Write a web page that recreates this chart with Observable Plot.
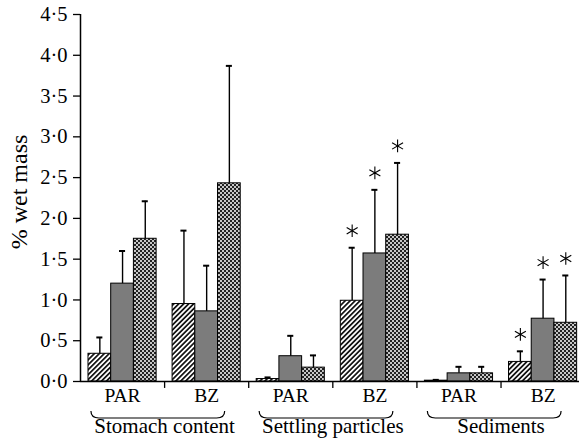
<!DOCTYPE html>
<html>
<head>
<meta charset="utf-8">
<script src="https://cdn.jsdelivr.net/npm/d3@7"></script>
<script src="https://cdn.jsdelivr.net/npm/@observablehq/plot@0.6"></script>
<style>
  html, body { margin: 0; padding: 0; background: #fff; }
  #chart { width: 579px; height: 444px; }
</style>
</head>
<body>
<div id="chart"></div>
<script>
// ---- data ----
const subgroups = ["PAR", "BZ", "PAR", "BZ", "PAR", "BZ"];
const sources = ["Stomach content", "Settling particles", "Sediments"];
const yTicks = [0, 0.5, 1, 1.5, 2, 2.5, 3, 3.5, 4, 4.5];
const yLabel = "% wet mass";
const seriesNames = ["hatched", "grey", "checked"];
// means (% wet mass) per subgroup
const hatchedMean = [0.34, 0.95, 0.03, 0.99, 0.01, 0.24];
const greyMean    = [1.20, 0.86, 0.31, 1.57, 0.10, 0.77];
const checkedMean = [1.75, 2.43, 0.17, 1.80, 0.10, 0.72];
// mean + error (top of error bar)
const hatchedTop = [0.54, 1.85, 0.05, 1.64, 0.02, 0.37];
const greyTop    = [1.60, 1.42, 0.56, 2.35, 0.18, 1.25];
const checkedTop = [2.21, 3.87, 0.32, 2.68, 0.18, 1.30];
// significance asterisk per subgroup
const significant = [false, false, false, true, false, true];

// ---- layout constants (styling, not data) ----
const FONT = "'Liberation Serif', 'Times New Roman', serif";
const groupPad = 0.095, barW = 0.27, capHalf = 0.036, tickLenX = 0.083, tickLenY = 0.085;
const fills = ["url(#hatch)", "#7c7c7c", "url(#checks)"];

const means = [hatchedMean, greyMean, checkedMean];
const tops = [hatchedTop, greyTop, checkedTop];
const rows = [];
subgroups.forEach((g, gi) => {
  seriesNames.forEach((s, si) => {
    const x1 = gi + groupPad + si * barW;
    rows.push({gi, si, x1, x2: x1 + barW, xc: x1 + barW / 2,
      mean: means[si][gi], top: tops[si][gi], sig: significant[gi]});
  });
});

const svgNS = "http://www.w3.org/2000/svg";
function el(name, attrs, parent) {
  const e = document.createElementNS(svgNS, name);
  for (const k in attrs) e.setAttribute(k, attrs[k]);
  if (parent) parent.appendChild(e);
  return e;
}

const defsMark = () => {
  const g = el("g", {});
  const defs = el("defs", {}, g);
  const h = el("pattern", {id: "hatch", width: 3.5, height: 3.5, patternUnits: "userSpaceOnUse", patternTransform: "rotate(45)"}, defs);
  el("rect", {width: 3.5, height: 3.5, fill: "#fff"}, h);
  el("line", {x1: 1.75, y1: -1, x2: 1.75, y2: 5, stroke: "#000", "stroke-width": 1.6}, h);
  const c = el("pattern", {id: "checks", width: 4, height: 4, patternUnits: "userSpaceOnUse"}, defs);
  el("rect", {width: 4, height: 4, fill: "#222"}, c);
  el("circle", {cx: 1, cy: 1, r: 1.0, fill: "#fff"}, c);
  el("circle", {cx: 3, cy: 3, r: 1.0, fill: "#fff"}, c);
  return g;
};

// braces under each pair of subgroups
const braceMark = (index, scales, values, dimensions) => {
  const g = el("g", {fill: "none", stroke: "#000", "stroke-width": 1.2});
  const yb = dimensions.height - dimensions.marginBottom + 37;
  sources.forEach((s, i) => {
    const a = scales.x(2 * i + 0.13), b = scales.x(2 * i + 1.72);
    const r = 8;
    el("path", {d: `M${a},${yb - 7} Q${a},${yb} ${a + r},${yb} L${b - r},${yb} Q${b},${yb} ${b},${yb - 7}`}, g);
  });
  return g;
};

const fmt = d => d.toFixed(1).replace(".", "\u00B7");

const chart = Plot.plot({
  width: 579,
  height: 444,
  marginLeft: 80,
  marginRight: 0,
  marginTop: 14,
  marginBottom: 63,
  style: {fontFamily: FONT, fontSize: "20px", color: "#000", background: "#fff", overflow: "visible"},
  x: {type: "linear", domain: [0, 5.933], axis: null},
  y: {domain: [0, 4.5], axis: null},
  marks: [
    defsMark,
    Plot.ruleY(yTicks, {y: d => d, x1: 0, x2: -tickLenX, stroke: "#000", strokeWidth: 1.3, clip: false}),
    Plot.text(yTicks, {y: d => d, text: fmt, frameAnchor: "left", dx: -13, textAnchor: "end", fontSize: 20.5, fontFamily: FONT, fill: "#000"}),
    Plot.ruleX([1, 2, 3, 4, 5], {x: d => d, y1: 0, y2: -tickLenY, stroke: "#000", strokeWidth: 1.3}),
    ...seriesNames.map((s, si) =>
      Plot.rectY(rows.filter(d => d.si === si), {x1: "x1", x2: "x2", y: "mean", fill: fills[si], stroke: "#000", strokeWidth: 1})
    ),
    Plot.ruleX(rows, {x: "xc", y1: "mean", y2: "top", stroke: "#000", strokeWidth: 1.4}),
    Plot.ruleY(rows, {y: "top", x1: d => d.xc - capHalf, x2: d => d.xc + capHalf, stroke: "#000", strokeWidth: 2}),
    Plot.dot(rows.filter(d => d.sig), {x: "xc", y: "top", symbol: "asterisk", r: 6, dy: -17, stroke: "#000", strokeWidth: 1.1}),
    Plot.ruleX([0], {y1: 0, y2: 4.5, stroke: "#000", strokeWidth: 1.5}),
    Plot.ruleY([0], {stroke: "#000", strokeWidth: 1.5}),
    Plot.text(subgroups, {x: (d, i) => i + 0.5, text: d => d, frameAnchor: "bottom", dy: 20, fontSize: 19.5, fontFamily: FONT, fill: "#000"}),
    Plot.text(sources, {x: (d, i) => 2 * i + 1, text: d => d, frameAnchor: "bottom", dy: 51, fontSize: 21, fontFamily: FONT, fill: "#000"}),
    braceMark,
    Plot.text([yLabel], {text: d => d, frameAnchor: "left", textAnchor: "middle", rotate: -90, dx: -61, dy: -6, fontSize: 24, fontFamily: FONT, fill: "#000"})
  ]
});
document.getElementById("chart").appendChild(chart);
</script>
</body>
</html>
